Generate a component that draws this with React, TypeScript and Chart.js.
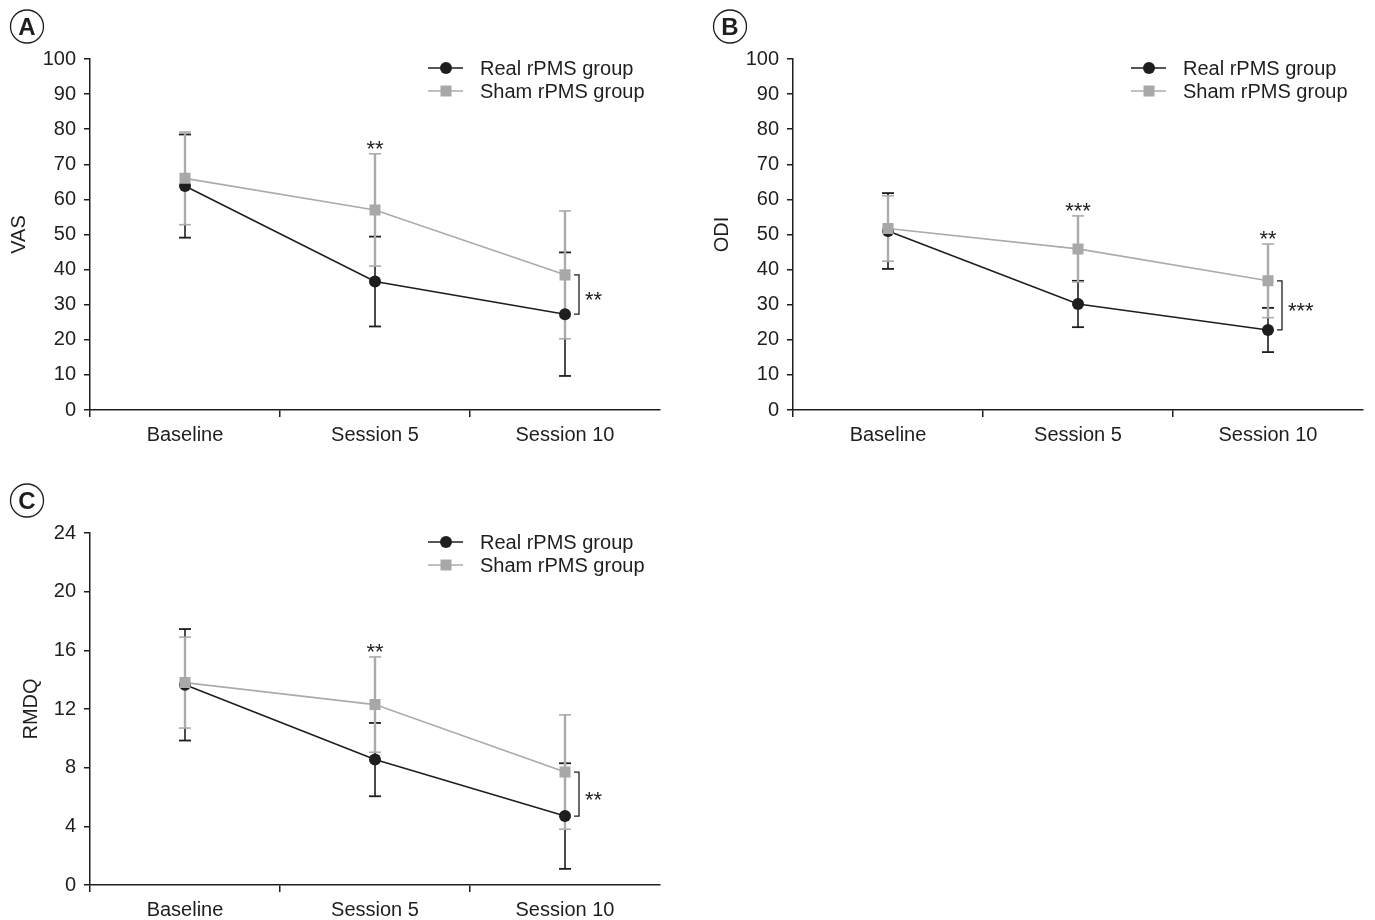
import React, { useEffect, useRef } from "react";
import { Chart, registerables } from "chart.js";

Chart.register(...registerables);

// ---------- Data ----------
const categories = ["Baseline", "Session 5", "Session 10"];

const vasReal = [63.8, 36.6, 27.3];
const vasRealSD = [14.7, 12.8, 17.6];
const vasSham = [66.0, 57.0, 38.5];
const vasShamSD = [13.2, 16.0, 18.2];
const vasTopMarks = ["", "**", ""];
const vasBracketMarks = ["", "", "**"];

const odiReal = [51.0, 30.2, 22.8];
const odiRealSD = [10.8, 6.6, 6.3];
const odiSham = [51.7, 45.9, 36.8];
const odiShamSD = [9.3, 9.4, 10.5];
const odiTopMarks = ["", "***", "**"];
const odiBracketMarks = ["", "", "***"];

const rmdqReal = [13.65, 8.55, 4.7];
const rmdqRealSD = [3.8, 2.5, 3.6];
const rmdqSham = [13.8, 12.3, 7.7];
const rmdqShamSD = [3.1, 3.25, 3.9];
const rmdqTopMarks = ["", "**", ""];
const rmdqBracketMarks = ["", "", "**"];

const vasTicks = { min: 0, max: 100, step: 10 };
const odiTicks = { min: 0, max: 100, step: 10 };
const rmdqTicks = { min: 0, max: 24, step: 4 };

const realLabel = "Real rPMS group";
const shamLabel = "Sham rPMS group";

// ---------- Styles ----------
const BLACK = "#1e1e1e";
const GRAY_LINE = "#ababab";
const GRAY_FILL = "#a7a8aa";
const FONT_FAMILY = "'Liberation Sans', Arial, Helvetica, sans-serif";

type PanelSpec = {
  letter: string;
  yTitle: string;
  real: number[];
  realSD: number[];
  sham: number[];
  shamSD: number[];
  topMarks: string[];
  bracketMarks: string[];
  ticks: { min: number; max: number; step: number };
  titlePad: number;
};

function makeOverlay(spec: PanelSpec) {
  const line = (ctx: CanvasRenderingContext2D, x1: number, y1: number, x2: number, y2: number) => {
    ctx.beginPath();
    ctx.moveTo(x1, y1);
    ctx.lineTo(x2, y2);
    ctx.stroke();
  };
  const asterisks = (ctx: CanvasRenderingContext2D, text: string, x: number, cy: number, align: CanvasTextAlign) => {
    ctx.save();
    ctx.fillStyle = BLACK;
    ctx.font = `22px ${FONT_FAMILY}`;
    ctx.textAlign = align;
    ctx.textBaseline = "alphabetic";
    ctx.fillText(text, x, cy + 12.5);
    ctx.restore();
  };
  return {
    id: "overlay" + spec.letter,
    beforeDatasetsDraw(chart: any) {
      const ctx: CanvasRenderingContext2D = chart.ctx;
      const xs = chart.scales.x;
      const ys = chart.scales.y;
      const cap = 6;
      ctx.save();
      // black (real) error bars
      ctx.strokeStyle = BLACK;
      spec.real.forEach((m, i) => {
        const px = xs.getPixelForValue(i);
        const t = ys.getPixelForValue(m + spec.realSD[i]);
        const b = ys.getPixelForValue(m - spec.realSD[i]);
        ctx.lineWidth = 1.6;
        line(ctx, px, t, px, b);
        ctx.lineWidth = 1.8;
        line(ctx, px - cap, t, px + cap, t);
        line(ctx, px - cap, b, px + cap, b);
      });
      // gray (sham) error bars
      ctx.strokeStyle = GRAY_LINE;
      spec.sham.forEach((m, i) => {
        const px = xs.getPixelForValue(i);
        const t = ys.getPixelForValue(m + spec.shamSD[i]);
        const b = ys.getPixelForValue(m - spec.shamSD[i]);
        ctx.lineWidth = 2.4;
        line(ctx, px, t, px, b);
        ctx.lineWidth = 1.6;
        line(ctx, px - cap, t, px + cap, t);
        line(ctx, px - cap, b, px + cap, b);
      });
      ctx.restore();
    },
    afterDatasetsDraw(chart: any) {
      const ctx: CanvasRenderingContext2D = chart.ctx;
      const xs = chart.scales.x;
      const ys = chart.scales.y;
      const area = chart.chartArea;
      // significance above sham bars
      spec.topMarks.forEach((mk, i) => {
        if (!mk) return;
        const px = xs.getPixelForValue(i);
        const t = ys.getPixelForValue(spec.sham[i] + spec.shamSD[i]);
        asterisks(ctx, mk, px, t - 10, "center");
      });
      // brackets between groups
      spec.bracketMarks.forEach((mk, i) => {
        if (!mk) return;
        const px = xs.getPixelForValue(i);
        const y1 = ys.getPixelForValue(spec.sham[i]);
        const y2 = ys.getPixelForValue(spec.real[i]);
        const bx = px + 14;
        ctx.save();
        ctx.strokeStyle = BLACK;
        ctx.lineWidth = 1.3;
        ctx.beginPath();
        ctx.moveTo(bx - 5, y1);
        ctx.lineTo(bx, y1);
        ctx.lineTo(bx, y2);
        ctx.lineTo(bx - 5, y2);
        ctx.stroke();
        ctx.restore();
        asterisks(ctx, mk, bx + 6, (y1 + y2) / 2, "left");
      });
      // legend
      const rows = [
        { label: realLabel, color: BLACK, fill: BLACK, shape: "circle", y: area.top + 9 },
        { label: shamLabel, color: GRAY_LINE, fill: GRAY_FILL, shape: "square", y: area.top + 32 },
      ];
      rows.forEach((r) => {
        const x0 = area.right - 232;
        const x1 = area.right - 197;
        const cx = area.right - 214;
        ctx.save();
        ctx.strokeStyle = r.color;
        ctx.lineWidth = 1.6;
        line(ctx, x0, r.y, x1, r.y);
        ctx.fillStyle = r.fill;
        if (r.shape === "circle") {
          ctx.beginPath();
          ctx.arc(cx, r.y, 6, 0, Math.PI * 2);
          ctx.fill();
        } else {
          ctx.fillRect(cx - 5.5, r.y - 5.5, 11, 11);
        }
        ctx.fillStyle = BLACK;
        ctx.font = `20px ${FONT_FAMILY}`;
        ctx.textAlign = "left";
        ctx.textBaseline = "middle";
        ctx.fillText(r.label, area.right - 180, r.y + 1);
        ctx.restore();
      });
      // circled panel letter
      ctx.save();
      ctx.strokeStyle = BLACK;
      ctx.lineWidth = 1.3;
      ctx.beginPath();
      ctx.arc(27, 26.5, 16.5, 0, Math.PI * 2);
      ctx.stroke();
      ctx.fillStyle = BLACK;
      ctx.font = `bold 24px ${FONT_FAMILY}`;
      ctx.textAlign = "center";
      ctx.textBaseline = "middle";
      ctx.fillText(spec.letter, 27, 28);
      ctx.restore();
    },
  };
}

function Panel({ spec, left, top, width, height }: { spec: PanelSpec; left: number; top: number; width: number; height: number }) {
  const ref = useRef<HTMLCanvasElement | null>(null);
  useEffect(() => {
    if (!ref.current) return;
    const font = { family: FONT_FAMILY, size: 20 };
    const chart = new Chart(ref.current, {
      type: "line",
      data: {
        labels: categories,
        datasets: [
          {
            label: realLabel,
            data: spec.real,
            borderColor: BLACK,
            backgroundColor: BLACK,
            borderWidth: 1.6,
            pointStyle: "circle",
            pointRadius: 6,
            pointBorderWidth: 0,
            pointBackgroundColor: BLACK,
            tension: 0,
            order: 2,
          },
          {
            label: shamLabel,
            data: spec.sham,
            borderColor: GRAY_LINE,
            backgroundColor: GRAY_FILL,
            borderWidth: 1.6,
            pointStyle: "rect",
            pointRadius: 7.8,
            pointBorderWidth: 0,
            pointBackgroundColor: GRAY_FILL,
            tension: 0,
            order: 1,
          },
        ],
      },
      options: {
        responsive: false,
        animation: false,
        layout: { padding: { top: 59, right: 20, left: 0, bottom: 0 } },
        plugins: { legend: { display: false }, tooltip: { enabled: false } },
        scales: {
          x: {
            type: "category",
            offset: true,
            grid: {
              offset: true,
              drawOnChartArea: false,
              drawTicks: true,
              tickLength: 7,
              lineWidth: 1.5,
              color: (c: any) => (c.type === "tick" ? BLACK : "rgba(0,0,0,0)"),
            },
            border: { display: true, color: BLACK, width: 1.5 },
            ticks: { color: BLACK, font, padding: 6, maxRotation: 0 },
            afterFit: (s: any) => {
              s.height = 50;
            },
          },
          y: {
            min: spec.ticks.min,
            max: spec.ticks.max,
            ticks: { stepSize: spec.ticks.step, color: BLACK, font, padding: 8 },
            grid: { drawOnChartArea: false, drawTicks: true, tickLength: 6, lineWidth: 1.5, color: BLACK },
            border: { display: true, color: BLACK, width: 1.5 },
            title: { display: true, text: spec.yTitle, color: BLACK, font, padding: { top: spec.titlePad, bottom: 0 } },
            afterFit: (s: any) => {
              s.width = 90;
            },
          },
        },
      },
      plugins: [makeOverlay(spec)],
    } as any);
    return () => chart.destroy();
  }, [spec]);
  return (
    <div style={{ position: "absolute", left, top, width, height }}>
      <canvas ref={ref} width={width} height={height} style={{ display: "block" }} />
    </div>
  );
}

const specA: PanelSpec = {
  letter: "A",
  yTitle: "VAS",
  real: vasReal,
  realSD: vasRealSD,
  sham: vasSham,
  shamSD: vasShamSD,
  topMarks: vasTopMarks,
  bracketMarks: vasBracketMarks,
  ticks: vasTicks,
  titlePad: 7,
};
const specB: PanelSpec = {
  letter: "B",
  yTitle: "ODI",
  real: odiReal,
  realSD: odiRealSD,
  sham: odiSham,
  shamSD: odiShamSD,
  topMarks: odiTopMarks,
  bracketMarks: odiBracketMarks,
  ticks: odiTicks,
  titlePad: 7,
};
const specC: PanelSpec = {
  letter: "C",
  yTitle: "RMDQ",
  real: rmdqReal,
  realSD: rmdqRealSD,
  sham: rmdqSham,
  shamSD: rmdqShamSD,
  topMarks: rmdqTopMarks,
  bracketMarks: rmdqBracketMarks,
  ticks: rmdqTicks,
  titlePad: 19,
};

export default function App() {
  return (
    <div style={{ position: "absolute", left: 0, top: 0, width: 1375, height: 920, overflow: "hidden", background: "#fff" }}>
      <Panel spec={specA} left={0} top={0} width={680} height={460} />
      <Panel spec={specB} left={703} top={0} width={680} height={460} />
      <Panel spec={specC} left={0} top={474} width={680} height={461} />
    </div>
  );
}
